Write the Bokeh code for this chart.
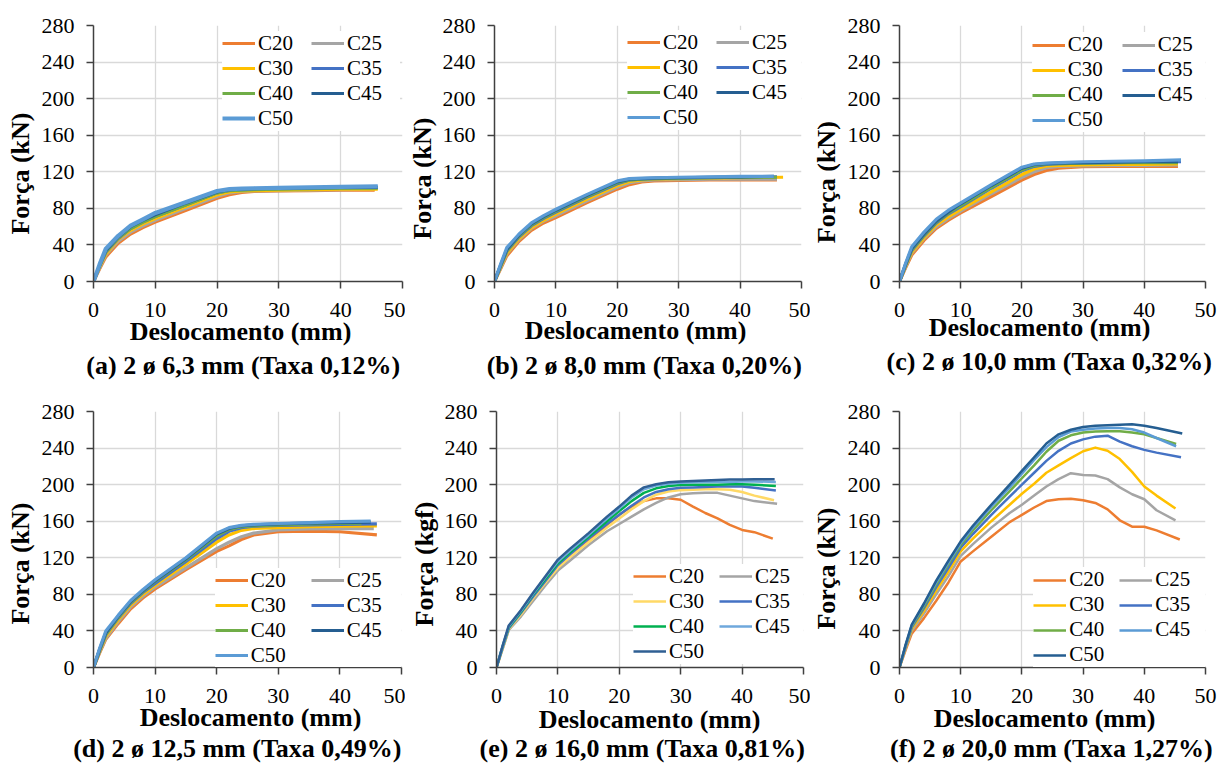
import math
from bokeh.plotting import figure
from bokeh.layouts import column, row
from bokeh.models import Legend, LegendItem, Title, FixedTicker, Range1d
from bokeh.embed import file_html
from bokeh.resources import INLINE

SERIES = ["C20", "C25", "C30", "C35", "C40", "C45", "C50"]
X_TICKS = [0, 10, 20, 30, 40, 50]
Y_TICKS = [0, 40, 80, 120, 160, 200, 240, 280]

# ---- panel (a) 2 ø 6,3 mm ----
A_X = [0, 1, 2, 4, 6, 8, 10, 15, 20, 22, 24, 26, 30, 35, 40]
A_END = [45.5, 45.5, 46, 46, 46, 46, 46]
A_C20 = [0, 14, 27, 42, 52, 59, 65, 78, 91, 95, 97.5, 98.5, 99, 99.5, 100, 100]
A_C25 = [0, 15, 29, 44, 54, 61, 67, 80, 93, 97, 98.5, 99, 99.5, 100, 100.5, 101]
A_C30 = [0, 16, 30, 46, 56, 63, 69, 82, 95, 98, 99, 99.5, 100, 100.5, 101, 101]
A_C35 = [0, 17, 32, 47, 58, 65, 71, 84, 97, 99.5, 100.5, 101, 101.5, 102, 102.5, 103]
A_C40 = [0, 17, 33, 48, 58, 65, 71, 84, 97, 99.5, 100, 100.5, 101, 101.5, 102, 102]
A_C45 = [0, 18, 34, 49, 60, 67, 73, 86, 98, 100.5, 101, 101.5, 102, 102.5, 103, 103]
A_C50 = [0, 19, 36, 50, 61, 68, 75, 87, 99, 101, 101.5, 102, 102.5, 103, 103.5, 104]

# ---- panel (b) 2 ø 8,0 mm ----
B_X = [0, 1, 2, 4, 6, 8, 10, 15, 20, 22, 24, 26, 30, 35, 40]
B_END = [46, 46, 47, 46, 46, 45.5, 45.5]
B_C20 = [0, 14, 28, 44, 56, 64, 70, 86, 101, 106, 109, 110, 110.5, 111, 111, 111]
B_C25 = [0, 15, 30, 46, 58, 66, 72, 88, 103, 108, 110, 111, 111.5, 112, 112, 112]
B_C30 = [0, 16, 31, 47, 59, 67, 74, 90, 105, 109.5, 111, 112, 112.5, 113, 113.5, 114]
B_C35 = [0, 17, 33, 49, 61, 69, 76, 92, 107, 111, 112, 112.5, 113, 113.5, 114, 114.5]
B_C40 = [0, 17, 34, 50, 62, 70, 77, 93, 108, 111, 112, 112.5, 113, 113.5, 114, 114]
B_C45 = [0, 18, 35, 51, 63, 71, 78, 94, 109, 112, 112.5, 113, 113.5, 114, 114.5, 115]
B_C50 = [0, 19, 37, 52, 64, 72, 79, 95, 110, 112.5, 113, 113.5, 114, 114.5, 115, 115]

# ---- panel (c) 2 ø 10,0 mm ----
C_X = [0, 1, 2, 4, 6, 8, 10, 15, 20, 22, 24, 26, 30, 35, 40]
C_END = [45.5, 45.5, 45.5, 46, 45.5, 45.5, 46]
C_C20 = [0, 15, 29, 45, 58, 67, 75, 93, 111, 117, 121.5, 124, 125.5, 126, 126, 126]
C_C25 = [0, 16, 31, 47, 60, 69, 77, 96, 114, 120, 124.5, 126, 126.5, 127, 127, 127.5]
C_C30 = [0, 17, 32, 48, 62, 71, 79, 98, 117, 123, 126.5, 127, 127.5, 128, 128, 128.5]
C_C35 = [0, 18, 34, 50, 64, 74, 82, 102, 121, 126, 128, 129, 129.5, 130, 130.5, 131]
C_C40 = [0, 18, 35, 51, 65, 75, 83, 103, 122, 127, 128.5, 129, 129.5, 130, 130, 130]
C_C45 = [0, 19, 36, 52, 66, 76, 85, 105, 124, 128, 129, 129.5, 130, 130.5, 131, 131]
C_C50 = [0, 20, 38, 54, 68, 78, 86, 106, 125, 128.5, 129.5, 130, 131, 131.5, 132, 133]

# ---- panel (d) 2 ø 12,5 mm ----
D_X = [0, 1, 2, 4, 6, 8, 10, 15, 20, 22, 24, 26, 30, 35, 40]
D_END = [46, 45.5, 46, 46, 43.5, 45, 45]
D_C20 = [0, 16, 31, 48, 64, 76, 86, 107, 127, 133, 140, 145, 148.5, 149, 148.5, 145]
D_C25 = [0, 17, 32, 50, 66, 78, 88, 109, 130, 137, 143, 147, 150.5, 151.5, 152, 152]
D_C30 = [0, 18, 34, 52, 68, 80, 90, 113, 137, 145, 150, 152, 153, 154, 154.5, 155]
D_C35 = [0, 19, 36, 54, 70, 82, 92, 116, 141, 149, 153, 154.5, 155.5, 156, 156.5, 157]
D_C40 = [0, 19, 37, 55, 71, 83, 94, 118, 144, 151, 154, 155, 156, 157, 157.5, 158]
D_C45 = [0, 20, 38, 56, 72, 84, 95, 119, 146, 152, 155, 156, 157, 158, 158.5, 159]
D_C50 = [0, 21, 40, 57, 73, 85, 96, 120, 147, 153, 155.5, 156.5, 157.5, 158.5, 159.5, 160]

# ---- panel (e) 2 ø 16,0 mm ----
E_X = [0, 1, 2, 4, 6, 8, 10, 12, 15, 18, 20, 22, 24, 26, 28, 30, 32, 34, 36, 38, 40, 42]
E_END = [45, 45.7, 45.2, 45.5, 45.5, 45.5, 45.3]
E_C20 = [0, 21, 42, 58, 76, 93, 109, 121, 138, 156, 167, 176, 182, 185, 185, 183.5, 176, 169, 163, 156, 150.5, 148, 141]
E_C25 = [0, 20, 41, 56, 73, 90, 106, 117, 134, 149, 157, 165, 173, 180, 186, 189.5, 190.5, 191, 191, 188, 185, 182, 179]
E_C30 = [0, 21, 42, 58, 76, 93, 109, 121, 137, 153, 163, 173, 182, 189, 192.5, 194, 194.5, 195, 195, 194.5, 192, 188, 183]
E_C35 = [0, 22, 43, 60, 78, 95, 112, 124, 141, 157, 167, 177, 186, 192, 195, 196.5, 197, 197.5, 198, 198, 198, 196.5, 193.5]
E_C40 = [0, 23, 44, 61, 80, 97, 114, 126, 143, 160, 171, 182, 191, 196, 198.5, 199.5, 200, 200, 200, 200.5, 200.5, 200, 198.5]
E_C45 = [0, 23, 45, 62, 81, 99, 116, 128, 145, 163, 174, 186, 195, 199, 201, 202, 202.5, 203, 203, 203, 203.5, 203.5, 203]
E_C50 = [0, 24, 46, 63, 82, 100, 118, 130, 147, 165, 176, 188, 197, 200.5, 202.5, 203.5, 204, 204.5, 205, 205.5, 205.5, 206, 206]

# ---- panel (f) 2 ø 20,0 mm ----
F_X = [0, 1, 2, 4, 6, 8, 10, 12, 15, 18, 20, 22, 24, 26, 28, 30, 32, 34, 36, 38, 40, 42]
F_END = [45.8, 45.1, 45.1, 46, 45.2, 45.2, 46.2]
F_C20 = [0, 19, 37, 54, 73, 93, 116, 127, 143, 159, 167, 175, 182, 184, 184.5, 183, 180, 173, 161, 154, 154, 150, 140]
F_C25 = [0, 21, 40, 59, 80, 100, 122, 135, 153, 169, 178, 188, 198, 206, 212.5, 210.5, 210, 206, 197, 189.5, 184, 172, 161]
F_C30 = [0, 22, 42, 62, 84, 105, 127, 141, 160, 178, 190, 201, 213, 221, 229, 236.5, 240.5, 237, 228, 214, 198, 188, 174]
F_C35 = [0, 23, 44, 65, 88, 109, 131, 146, 167, 187, 200, 213, 226, 237, 245, 249.5, 252.5, 253.5, 247, 242, 238, 235, 230]
F_C40 = [0, 24, 45, 67, 91, 113, 134, 150, 172, 193, 207, 221, 236, 248, 254, 257, 258, 258.5, 258.5, 257, 255, 251, 244.5]
F_C45 = [0, 24, 46, 69, 93, 115, 136, 153, 176, 197, 212, 227, 241, 252, 258, 260, 261.5, 262, 262, 260.5, 257, 251, 242]
F_C50 = [0, 25, 47, 70, 95, 117, 138, 155, 178, 200, 215, 230, 245, 255, 260, 263, 264.5, 265, 265.5, 266, 264.5, 262, 256]

CAPTIONS = ["(a) 2 ø 6,3 mm (Taxa 0,12%)", "(b) 2 ø 8,0 mm (Taxa 0,20%)",
            "(c) 2 ø 10,0 mm (Taxa 0,32%)", "(d) 2 ø 12,5 mm (Taxa 0,49%)",
            "(e) 2 ø 16,0 mm (Taxa 0,81%)", "(f) 2 ø 20,0 mm (Taxa 1,27%)"]
Y_LABELS = ["Força (kN)", "Força (kN)", "Força (kN)", "Força (kN)", "Força (kgf)", "Força (kN)"]
X_LABEL = "Deslocamento (mm)"

# ---- styles ----
COL_STD = ["#ED7D31", "#A5A5A5", "#FFC000", "#4472C4", "#70AD47", "#255E91", "#5B9BD5"]
COL_E = ["#ED7D31", "#A5A5A5", "#FFD966", "#4472C4", "#00B050", "#6FA8DC", "#2F5F93"]
COL_F = ["#ED7D31", "#A5A5A5", "#FFC000", "#4472C4", "#70AD47", "#5B9BD5", "#255E91"]
FONT = "Liberation Serif"
LEG_FS = 21
LEG_H = 1.195 * LEG_FS   # legend row height
PAD = 2
BIG = 26              # bold label font size
H_T = 29.6            # title text box height
U_T = 22.7            # box top -> baseline
D_T = H_T - U_T
AX_B = 38.3           # x-axis panel height
AX_L = 52             # y-axis panel width

# row geometry (frames in one row are aligned): H, frame_top, frame_h
ROWS = [(385, 25, 256), (380, 26, 256)]
# per panel: W, frame_left, frame_w
COLS = [(405, 93, 309), (405, 89, 307), (410, 87, 308),
        (405, 93, 308), (405, 91, 307), (410, 87, 308)]
# legend: swatch x0, anchor row center, 'top'/'bottom', col pitch
LEG = [(131, 15.7, "top", 89), (135, 15, "top", 89), (134.7, 17.3, "top", 90),
       (123.7, 13.7, "bottom", 96), (139, 17.7, "bottom", 86), (136.3, 14.3, "bottom", 86)]
# text targets (px, relative to frame): xlabel center, xlabel baseline below frame,
# caption center, caption baseline below frame, ylabel baseline left of frame, ylabel center above bottom
TXT = [(147, 58.9, 151, 92.9, 62.5, 108), (141, 57.9, 151, 92.2, 62.1, 103),
       (140, 52.9, 151, 90.2, 63.4, 99.3), (157, 57.9, 145, 90.2, 62.2, 104),
       (153, 60.2, 147, 91.2, 62.1, 103.5), (145, 58.5, 153, 91.2, 62.8, 99)]
EM_CAP = [12.165, 12.221, 12.609, 12.721, 12.609, 12.498]
EM_XL = 8.525
EM_YL = [4.693, 4.693, 4.693, 4.693, 4.804, 4.693]


def make_panel(i, xs, ends, ys_list, colors, lw):
    H, ft, fh = ROWS[i // 3]
    W, fl, fw = COLS[i]
    bb = H - ft - fh
    p = figure(width=W, height=H, x_range=Range1d(0, 50), y_range=Range1d(0, 280),
               output_backend="svg", toolbar_location=None,
               min_border_left=fl, min_border_top=ft, min_border_right=W - fl - fw,
               min_border_bottom=bb)
    p.outline_line_color = None
    p.background_fill_color = "white"
    p.xaxis.ticker = FixedTicker(ticks=X_TICKS)
    p.yaxis.ticker = FixedTicker(ticks=Y_TICKS)
    for ax in (p.xaxis[0], p.yaxis[0]):
        ax.axis_line_color = "#404040"
        ax.axis_line_width = 1.5
        ax.major_tick_line_color = "#404040"
        ax.major_tick_line_width = 1.5
        ax.major_tick_out = 7
        ax.major_tick_in = 0
        ax.minor_tick_out = 0
        ax.minor_tick_in = 0
        ax.major_label_text_font = FONT
        ax.major_label_text_font_size = "22px"
        ax.major_label_text_color = "black"
    p.xaxis.major_label_standoff = 14
    p.yaxis.major_label_standoff = 12
    p.grid.grid_line_color = "#D9D9D9"
    p.grid.grid_line_width = 1.3

    rend = {}
    for name, ys, ex, c in zip(SERIES, ys_list, ends, colors):
        w = lw[name] if isinstance(lw, dict) else lw
        rend[name] = p.line(x=xs + [ex], y=ys, line_color=c, line_width=w, line_join="round")

    # legend (two columns, filled row by row)
    sx0, ranchor, side, pw = LEG[i]
    order = ["C20", "C30", "C40", "C50", "C25", "C35", "C45"]
    items = [LegendItem(label=n, renderers=[rend[n]]) for n in order]
    L = 2 * PAD + 4 * LEG_H
    if side == "top":
        vy = fh - (ranchor - LEG_H / 2 - PAD) - L
    else:
        vy = ranchor - LEG_H / 2 - PAD
    leg = Legend(items=items, location=(sx0 - PAD, vy), orientation="vertical", nrows=4)
    leg.label_text_font = FONT
    leg.label_text_font_size = f"{LEG_FS}px"
    leg.label_text_color = "black"
    leg.glyph_width = 33
    leg.glyph_height = 14
    leg.label_height = 14
    leg.label_standoff = 3
    leg.spacing = 0
    leg.label_width = int(round(pw - 33 - 3))
    leg.padding = PAD
    leg.margin = 0
    leg.border_line_color = None
    leg.background_fill_color = "white"
    leg.background_fill_alpha = 1.0
    p.add_layout(leg)

    xc, b1, cc, b2, yb, yc = TXT[i]
    # below: x label (vertical_align top), caption (vertical_align bottom)
    t1 = b1 - U_T
    cb = b2 + D_T
    s1 = 2 * (t1 - AX_B)
    p1 = 2 + H_T + s1
    s2 = 2 * (cb - AX_B - p1 - 2 - H_T)
    R = cb + s2 / 2
    rmax = bb - 1
    if R > rmax:
        e = (R - rmax) / 4.0
        t1 += e
        cb -= e
        s1 = 2 * (t1 - AX_B)
        p1 = 2 + H_T + s1
        s2 = 2 * (cb - AX_B - p1 - 2 - H_T)
    tfont = dict(text_font=FONT, text_font_size=f"{BIG}px", text_font_style="bold", text_color="black")
    xl = Title(text=X_LABEL, align="left", vertical_align="top", offset=xc - EM_XL * BIG / 2,
               standoff=s1, **tfont)
    cap = Title(text=CAPTIONS[i], align="left", vertical_align="bottom",
                offset=cc - EM_CAP[i] * BIG / 2, standoff=s2, **tfont)
    p.add_layout(xl, "below")
    p.add_layout(cap, "below")
    # left: y label (vertical_align top)
    sy = 2 * (yb - AX_L - 2 - H_T + U_T)
    sy = min(sy, fl - AX_L - 2 - H_T - 0.5)
    yl = Title(text=Y_LABELS[i], align="left", vertical_align="top",
               offset=yc - EM_YL[i] * BIG / 2, standoff=sy, **tfont)
    p.add_layout(yl, "left")
    return p


pa = make_panel(0, A_X, A_END, [A_C20, A_C25, A_C30, A_C35, A_C40, A_C45, A_C50], COL_STD,
                {"C20": 3.2, "C25": 3.2, "C30": 3.2, "C35": 3.2, "C40": 3.2, "C45": 3.2, "C50": 4.2})
pb = make_panel(1, B_X, B_END, [B_C20, B_C25, B_C30, B_C35, B_C40, B_C45, B_C50], COL_STD, 3.2)
pc = make_panel(2, C_X, C_END, [C_C20, C_C25, C_C30, C_C35, C_C40, C_C45, C_C50], COL_STD, 3.2)
pd = make_panel(3, D_X, D_END, [D_C20, D_C25, D_C30, D_C35, D_C40, D_C45, D_C50], COL_STD, 3.2)
pe = make_panel(4, E_X, E_END, [E_C20, E_C25, E_C30, E_C35, E_C40, E_C45, E_C50], COL_E, 2.5)
pf = make_panel(5, F_X, F_END, [F_C20, F_C25, F_C30, F_C35, F_C40, F_C45, F_C50], COL_F, 2.5)

layout = column(row(pa, pb, pc, spacing=0), row(pd, pe, pf, spacing=0), spacing=0)
open("out.html", "w").write(file_html(layout, INLINE))
